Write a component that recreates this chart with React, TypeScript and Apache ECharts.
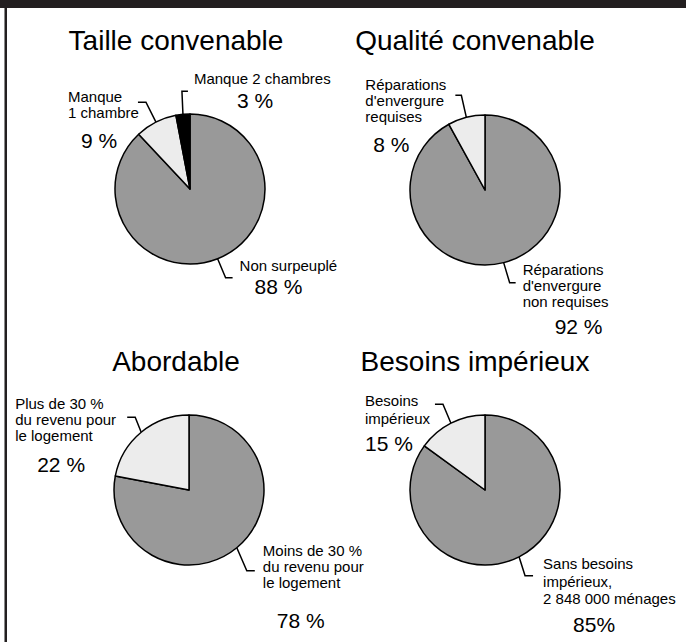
import React, { useEffect, useRef } from 'react';
import * as echarts from 'echarts';

const FONT = "'Liberation Sans', Arial, Helvetica, sans-serif";

// ---- Data ----
const titles = ['Taille convenable', 'Qualité convenable', 'Abordable', 'Besoins impérieux'];

const tailleNames = ['Non surpeuplé', 'Manque\n1 chambre', 'Manque 2 chambres'];
const tailleValues = [88, 9, 3];
const taillePct = ['88 %', '9 %', '3 %'];

const qualiteNames = ["Réparations\nd'envergure\nnon requises", "Réparations\nd'envergure\nrequises"];
const qualiteValues = [92, 8];
const qualitePct = ['92 %', '8 %'];

const abordNames = ['Moins de 30 %\ndu revenu pour\nle logement', 'Plus de 30 %\ndu revenu pour\nle logement'];
const abordValues = [78, 22];
const abordPct = ['78 %', '22 %'];

const besoinsNames = ['Sans besoins\nimpérieux,\n2 848 000 ménages', 'Besoins\nimpérieux'];
const besoinsValues = [85, 15];
const besoinsPct = ['85%', '15 %'];

const sliceColors = ['#999999', '#ececec', '#000000'];

// ---- Layout (positions / styles) ----
const CENTERS: number[][] = [[190, 189], [485, 190], [189, 490], [485, 490]];
const R = 75;
const TITLE_POS: number[][] = [[176, 26], [475, 26], [176, 347], [475, 347]];
const NAME_LH = [16, 16, 16, 17.5];

type LC = { cdx: number; cdy: number; h: number; lx: number; ly: number; pad: number; ph: number };

const labelCfg: LC[][] = [
  [
    { cdx: 8, cdy: 19, h: 7, lx: 7, ly: -20, pad: 15, ph: 26 },
    { cdx: -10, cdy: -20, h: -8, lx: -70, ly: -14, pad: 13, ph: 40 },
    { cdx: -1, cdy: -23, h: 6, lx: 6, ly: -21, pad: 43, ph: 28 },
  ],
  [
    { cdx: 6, cdy: 20, h: 6, lx: 7, ly: -21, pad: 32, ph: 34 },
    { cdx: -5, cdy: -22, h: -6, lx: -90, ly: -19, pad: 8, ph: 40 },
  ],
  [
    { cdx: 10, cdy: 23, h: 8, lx: 8, ly: -28, pad: 14, ph: 60 },
    { cdx: -6, cdy: -15, h: -8, lx: -112, ly: -22, pad: 22, ph: 42 },
  ],
  [
    { cdx: 6, cdy: 19, h: 8, lx: 10, ly: -21, pad: 30, ph: 35 },
    { cdx: -8, cdy: -19, h: -8, lx: -70, ly: -12, pad: 0, ph: 33 },
  ],
];

function makeSeries(idx: number, names: string[], values: number[], pcts: string[]) {
  const cfgs = labelCfg[idx];
  const total = values.reduce((a, b) => a + b, 0);
  const [cx, cy] = CENTERS[idx];
  const mids: number[] = [];
  let acc = 0;
  values.forEach((v) => {
    mids.push(((acc + v / 2) / total) * Math.PI * 2);
    acc += v;
  });
  return {
    type: 'pie',
    center: [cx, cy],
    radius: R,
    startAngle: 90,
    clockwise: true,
    avoidLabelOverlap: false,
    silent: true,
    itemStyle: { borderColor: '#000', borderWidth: 1.5 },
    label: { show: true, position: 'outside', color: '#000', fontFamily: FONT },
    labelLine: { show: true, length: 10, length2: 5, smooth: false, lineStyle: { color: '#000', width: 1.5 } },
    data: values.map((v, i) => ({
      value: v,
      name: names[i],
      itemStyle: { color: sliceColors[i] },
      label: {
        formatter:
          names[i].split('\n').map((s) => `{n|${s}}`).join('\n') + `\n{p|${pcts[i]}}`,
        rich: {
          n: { fontSize: 15, lineHeight: NAME_LH[idx], fontFamily: FONT, color: '#000' },
          p: {
            fontSize: 21,
            lineHeight: cfgs[i].ph,
            padding: [0, 0, 0, cfgs[i].pad],
            fontFamily: FONT,
            color: '#000',
          },
        },
      },
    })),
    labelLayout: (params: any) => {
      const i = params.dataIndex;
      const c = cfgs[i];
      const a = mids[i];
      const ex = cx + R * Math.sin(a);
      const ey = cy - R * Math.cos(a);
      const kx = ex + c.cdx;
      const ky = ey + c.cdy;
      const tx = kx + c.h;
      return {
        x: tx + c.lx,
        y: ky + c.ly,
        align: 'left',
        verticalAlign: 'top',
        labelLinePoints: [
          [ex, ey],
          [kx, ky],
          [tx, ky],
        ],
      };
    },
  };
}

export default function App() {
  const ref = useRef<HTMLDivElement>(null);
  useEffect(() => {
    document.body.style.margin = '0';
    if (!ref.current) return;
    const chart = echarts.init(ref.current, undefined, { renderer: 'svg' });
    chart.setOption({
      animation: false,
      backgroundColor: '#ffffff',
      title: titles.map((t, i) => ({
        text: t,
        left: TITLE_POS[i][0],
        top: TITLE_POS[i][1],
        textAlign: 'center',
        padding: 0,
        textStyle: { fontSize: 28, fontWeight: 'normal', color: '#000', fontFamily: FONT },
      })),
      graphic: [
        { type: 'rect', shape: { x: 0, y: 0, width: 686, height: 8 }, style: { fill: '#231f20' }, silent: true },
        { type: 'rect', shape: { x: 4, y: 8, width: 1, height: 634 }, style: { fill: '#8a8a8a' }, silent: true },
        { type: 'rect', shape: { x: 5, y: 8, width: 2, height: 634 }, style: { fill: '#231f20' }, silent: true },
      ],
      series: [
        makeSeries(0, tailleNames, tailleValues, taillePct),
        makeSeries(1, qualiteNames, qualiteValues, qualitePct),
        makeSeries(2, abordNames, abordValues, abordPct),
        makeSeries(3, besoinsNames, besoinsValues, besoinsPct),
      ],
    });
    return () => chart.dispose();
  }, []);
  return <div ref={ref} style={{ width: 686, height: 642 }} />;
}
